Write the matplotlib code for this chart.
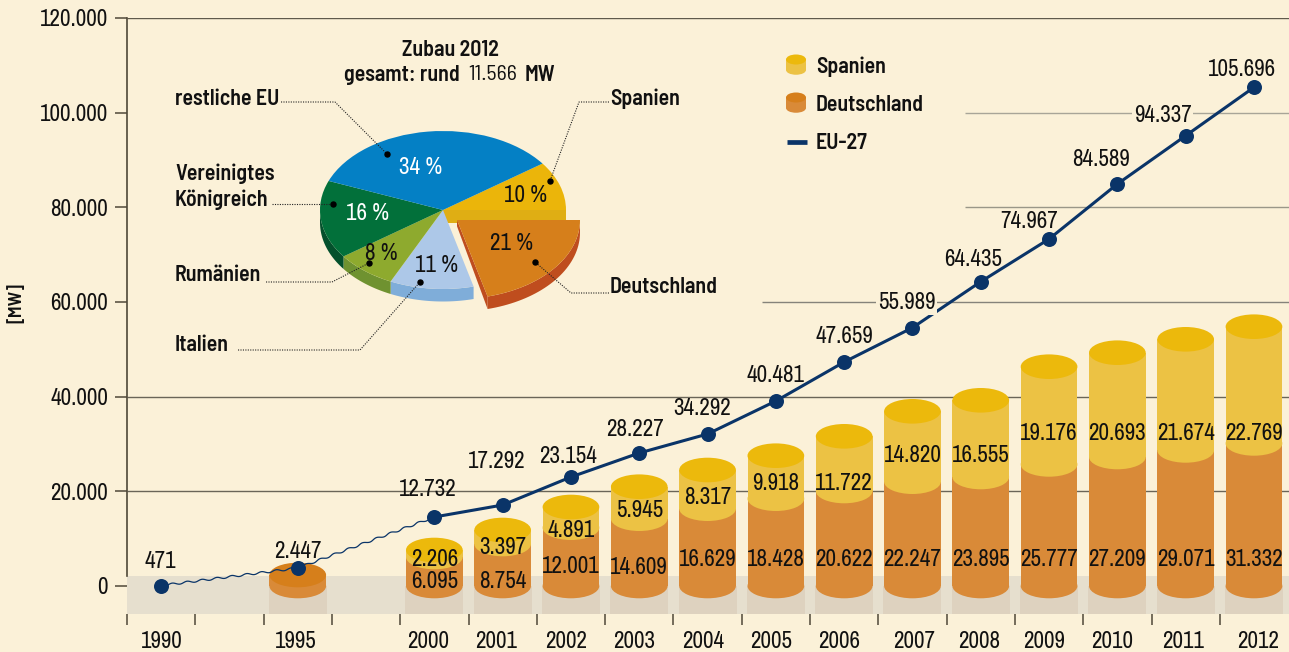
import numpy as np
import matplotlib
matplotlib.use("Agg")
import matplotlib.pyplot as plt
from matplotlib import font_manager as fm
from matplotlib.patches import Ellipse, Wedge, Polygon, Rectangle

# ---------- data ----------
years = ["1990", "1995", "2000", "2001", "2002", "2003", "2004", "2005", "2006",
         "2007", "2008", "2009", "2010", "2011", "2012"]
slots = [0, 2, 4, 5, 6, 7, 8, 9, 10, 11, 12, 13, 14, 15, 16]

# printed labels
eu27_labels = ["471", "2.447", "12.732", "17.292", "23.154", "28.227", "34.292", "40.481",
               "47.659", "55.989", "64.435", "74.967", "84.589", "94.337", "105.696"]
germany_labels = ["6.095", "8.754", "12.001", "14.609", "16.629", "18.428", "20.622",
                  "22.247", "23.895", "25.777", "27.209", "29.071", "31.332"]
spain_labels = ["2.206", "3.397", "4.891", "5.945", "8.317", "9.918", "11.722",
                "14.820", "16.555", "19.176", "20.693", "21.674", "22.769"]

# heights as drawn in the picture
eu27_drawn = [100, 3800, 14580, 17110, 23030, 28100, 32110, 39080,
              47320, 54570, 64290, 73310, 84930, 95130, 105360]
germany_drawn = [2324, 6127, 8873, 12317, 14218, 16331, 18444, 20071,
                 22035, 23028, 25690, 27254, 28648, 30127]
stack_top_drawn = [7606, 11831, 16690, 20979, 24507, 27529, 31627,
                   36909, 39233, 46331, 49289, 52120, 54782]

pie_names = ["Spanien", "Deutschland", "Italien", "Rumänien", "Vereinigtes Königreich", "restliche EU"]
pie_shares = [10, 21, 11, 8, 16, 34]

y_ticks = [0, 20000, 40000, 60000, 80000, 100000, 120000]
y_tick_labels = ["0", "20.000", "40.000", "60.000", "80.000", "100.000", "120.000"]

# ---------- style ----------
W, H = 1289, 652
BG = "#fbf1d8"
NAVY = "#0a3468"
OR_BODY, OR_TOP = "#d98a38", "#d67f1b"
YE_BODY, YE_TOP = "#ecc244", "#ecb90c"
INK = "#111111"
_have = {f.name for f in fm.fontManager.ttflist}
if "Archivo Narrow" in _have:
    NUM, FS = "Archivo Narrow", 16.6
else:
    NUM, FS = "Liberation Sans", 13
if "Barlow Semi Condensed" in _have:
    LAB = dict(family="Barlow Semi Condensed", fontsize=15.8, fontweight="semibold", color=INK)
    LAB_LIGHT = dict(family="Barlow Semi Condensed", fontsize=15.8, fontweight="normal", color=INK)
else:
    LAB = dict(family="Liberation Sans", fontsize=13, fontweight="bold", color=INK)
    LAB_LIGHT = dict(family="Liberation Sans", fontsize=13, color=INK)
PX = 72 / 100  # points per pixel

fig = plt.figure(figsize=(W / 100, H / 100), dpi=100, facecolor=BG)

# main axes: px 127..1289, py 18..614
Y0_PX, PX_PER_V = 586, 568 / 120000
y_low = -(614 - Y0_PX) / PX_PER_V
SLOT_PX, X0_PX = 68.31, 161
ax = fig.add_axes([127 / W, 1 - 614 / H, (W - 127) / W, (614 - 18) / H])
ax.patch.set_alpha(0)
ax.set_ylim(y_low, 120000)
ax.set_xlim((127 - X0_PX) / SLOT_PX, (W - X0_PX) / SLOT_PX)


def vy(py):
    return (Y0_PX - py) / PX_PER_V


def sx(px):
    return (px - X0_PX) / SLOT_PX


# band and gridlines
ax.axhspan(y_low, vy(576), color="#e6dfce", lw=0, zorder=1)
grid = [(120000, 127, "#5f5a4c"), (100000, 965, "#a8a598"), (80000, 965, "#9a9788"),
        (60000, 762, "#85837a"), (40000, 127, "#6a6558"), (20000, 127, "#6a6558")]
for val, start, col in grid:
    ax.hlines(val, sx(start), sx(W), color=col, lw=1.0, zorder=1.5)

# cylinders
BW = 56.7 / SLOT_PX
EH = 2 * 12.3 / PX_PER_V
cyl_slots = slots[1:]
spain_drawn = [t - g for t, g in zip(stack_top_drawn, germany_drawn[1:])]
for s in cyl_slots:
    ax.add_patch(Rectangle((s - BW / 2 - .01, y_low), BW + .02, -y_low,
                           color="#ded2bf", lw=0, zorder=1.8))
ax.bar(cyl_slots, germany_drawn, width=BW, color=OR_BODY, lw=0, zorder=3)
ax.bar(cyl_slots[1:], spain_drawn, bottom=germany_drawn[1:], width=BW, color=YE_BODY, lw=0, zorder=3)
for s in cyl_slots:
    ax.add_patch(Ellipse((s, 0), BW, EH, color=OR_BODY, lw=0, zorder=2.9))
ax.add_patch(Ellipse((cyl_slots[0], germany_drawn[0]), BW, EH, color=OR_TOP, lw=0, zorder=3.2))
for s, g, t in zip(cyl_slots[1:], germany_drawn[1:], stack_top_drawn):
    ax.add_patch(Ellipse((s, g), BW, EH, color=YE_BODY, lw=0, zorder=3.1))
    ax.add_patch(Ellipse((s, t), BW, EH, color=YE_TOP, lw=0, zorder=3.2))

# cylinder labels
ger_py = [581.7, 582, 566.7, 567, 560, 560, 560, 560, 560, 560, 560, 560, 560]
spa_py = [559, 548, 530.7, 510.7, 497, 484, 484, 456, 456, 433, 433, 433, 433]
for s, lg, ls, pg, ps in zip(slots[2:], germany_labels, spain_labels, ger_py, spa_py):
    ax.text(s, vy(pg), lg, ha="center", va="center", family=NUM, fontsize=FS, color=INK, zorder=8)
    ax.text(s, vy(ps), ls, ha="center", va="center", family=NUM, fontsize=FS, color=INK, zorder=8)

# EU-27 line: thin wavy part up to 2000, solid after
wavy, = ax.plot(slots[:3], eu27_drawn[:3], color=NAVY, lw=0.9, zorder=5)
wavy.set_sketch_params(scale=1.0, length=15, randomness=1)
ax.plot(slots[2:], eu27_drawn[2:], color=NAVY, lw=2.2, zorder=5, solid_capstyle="round")
ax.plot(slots, eu27_drawn, ls="none", marker="o", ms=10.8, mfc=NAVY, mec="none", zorder=6)

label_off = [(-1, 24), (0, 17), (-7, 27), (-6, 44), (-3, 20), (-4, 23), (-5, 26), (0, 26),
             (0, 26), (-6, 25), (-8, 22), (-20, 17), (-16, 24), (-23, 20), (-12, 18)]
for s, v, t, (dx, dy) in zip(slots, eu27_drawn, eu27_labels, label_off):
    boxed = t in ("55.989", "94.337")
    ax.annotate(t, (s, v), xytext=(dx * PX, dy * PX), textcoords="offset points",
                ha="center", va="center", family=NUM, fontsize=FS, color=INK, zorder=7,
                bbox=dict(fc=BG, ec="none", pad=1.0) if boxed else None)

# axes furniture
for side in ("top", "right", "bottom"):
    ax.spines[side].set_visible(False)
ax.spines["left"].set_bounds(vy(576), 120000)
ax.spines["left"].set_color("#4f4838")
ax.spines["left"].set_linewidth(1.2)
ax.set_yticks(y_ticks, y_tick_labels, family=NUM, fontsize=FS, color=INK)
ax.tick_params(axis="y", length=12 * PX, width=1.1, color="#4f4838", pad=5)
ax.set_xticks([i - 0.5 for i in range(17)], [""] * 17)
ax.tick_params(axis="x", which="major", length=11 * PX, width=1.1, color="#4f4838")
label_px = [161.4, 295.7, 428, 495.7, 566, 634, 703, 771, 839, 914, 979, 1044, 1112, 1183, 1258]
ax.set_xticks([sx(p) for p in label_px], years, minor=True, family=NUM, fontsize=FS, color=INK)
ax.tick_params(axis="x", which="minor", length=0, pad=12)

# overlay in picture pixels for annotations
ov = fig.add_axes([0, 0, 1, 1], zorder=4)
ov.set_xlim(0, W)
ov.set_ylim(H, 0)
ov.axis("off")
ov.patch.set_alpha(0)
ov.text(16, 303, "[MW]", rotation=90, ha="center", va="center", **{**LAB, "fontsize": 13.5})

# legend
for py, body, top in [(54, YE_BODY, YE_TOP), (92, OR_BODY, OR_TOP)]:
    ov.add_patch(Rectangle((786, py + 5), 20, 11, color=body, lw=0))
    ov.add_patch(Ellipse((796, py + 16), 20, 9.5, color=body, lw=0))
    ov.add_patch(Ellipse((796, py + 5.5), 20, 10, color=top, lw=0))
ov.plot([787, 807], [141.7, 141.7], color=NAVY, lw=3.4, solid_capstyle="butt")
for py, t in [(67, "Spanien"), (105, "Deutschland"), (143, "EU-27")]:
    ov.text(816, py, t, ha="left", va="center", **LAB)

# pie
RX, RY, CX, CY = 123, 79, 443, 210
pa = fig.add_axes([(CX - 1.4 * RX) / W, 1 - (CY + 1.4 * RY) / H, 2.8 * RX / W, 2.8 * RY / H], zorder=3)
pa.set_xlim(-1.4, 1.4)
pa.set_ylim(-1.4, 1.4)
pa.axis("off")
pa.patch.set_alpha(0)
top_cols = ["#ebb50a", "#d67f1b", "#adc8e8", "#8eaa2e", "#02703a", "#0480c5"]
side_cols = ["#dfae14", "#bf4d1e", "#7fadd9", "#6f9230", "#04502c", "#0470a8"]
D = 12.5 / RY
EX, EY = 14 / RX, -10 / RY
ends = 36 - np.cumsum(pie_shares) * 3.6
starts = np.r_[36, ends[:-1]]


def wall(th1, th2, cx=0.0, cy=0.0):
    # visible outer wall between angles th1 > th2 (clockwise), lower half only
    lo = max(th2, -180)
    hi = min(th1, 0)
    if hi <= lo:
        return None
    a = np.radians(np.linspace(hi, lo, 40))
    xs, ys = cx + np.cos(a), cy + np.sin(a)
    return np.r_[np.c_[xs, ys], np.c_[xs, ys - D][::-1]]


for i, (a, b) in enumerate(zip(starts, ends)):
    if i == 1:
        continue
    w = wall(a, b)
    if w is not None:
        pa.add_patch(Polygon(w, color=side_cols[i], lw=0, zorder=1))
pa.add_patch(Polygon([(0, 0), (1, 0), (1, -D), (0, -D)], color=side_cols[0], lw=0, zorder=1.5))
for i, (a, b) in enumerate(zip(starts, ends)):
    if i == 1:
        continue
    pa.add_patch(Wedge((0, 0), 1, b, a, color=top_cols[i], lw=0, zorder=2))
# pulled-out slice
a, b = starts[1], ends[1]
edge = (EX + np.cos(np.radians(b)), EY + np.sin(np.radians(b)))
pa.add_patch(Polygon(wall(a, b, EX, EY), color=side_cols[1], lw=0, zorder=3))
pa.add_patch(Polygon([(EX, EY), edge, (edge[0], edge[1] - D), (EX, EY - D * 0.5)],
                     color=side_cols[1], lw=0, zorder=3))
pa.add_patch(Wedge((EX, EY), 1, b, a, color=top_cols[1], lw=0, zorder=4))

# pie texts and leaders
pct_pos = [(526, 196, INK), (512, 243, INK), (437, 265, INK),
           (381, 254, INK), (368, 214, "white"), (421, 168, "white")]
for share, (x, y, c) in zip(pie_shares, pct_pos):
    ov.text(x, y, f"{share} %", ha="center", va="center", family=NUM, fontsize=FS, color=c)

leaders = [[(281, 102), (335, 102), (387, 154)], [(609, 102), (579, 102), (550, 181)],
           [(272, 204), (333, 204)], [(266, 282), (332, 282), (369, 263)],
           [(238, 350), (360, 350), (420, 282)], [(609, 293), (571, 293), (535, 262)]]
for pts in leaders:
    xs, ys = zip(*pts)
    ov.plot(xs, ys, color="#222222", lw=0.8, ls=(0, (1, 1.2)), zorder=5)
    ov.plot(xs[-1], ys[-1], "o", ms=3.6, color="black", zorder=6)

for x, y, t in [(175, 99, "restliche EU"), (175, 174, "Vereinigtes"), (175, 200, "Königreich"),
                (175, 275, "Rumänien"), (175, 345, "Italien"), (610, 99, "Spanien"),
                (610, 287, "Deutschland")]:
    ov.text(x, y, t, ha="left", va="center", **LAB)

ov.text(450, 50, "Zubau 2012", ha="center", va="center", **LAB)
ov.text(460, 75, "gesamt: rund", ha="right", va="center", **LAB)
ov.text(492.5, 75, "11.566", ha="center", va="center", **LAB_LIGHT)
ov.text(540, 75, "MW", ha="center", va="center", **LAB)

fig.savefig("out.png", dpi=100, facecolor=BG)
